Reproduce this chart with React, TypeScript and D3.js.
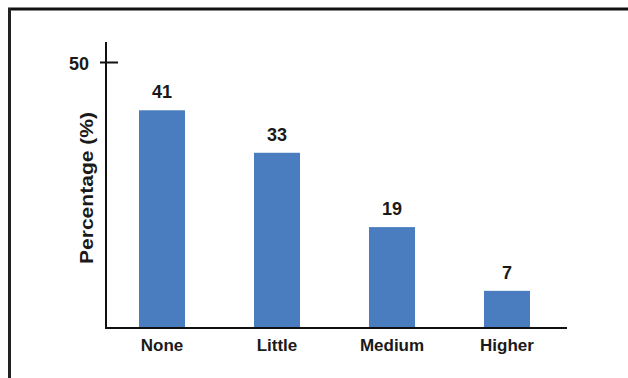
import React from "react";
import * as d3 from "d3";

const categories = ["None", "Little", "Medium", "Higher"];
const values = [41, 33, 19, 7];
const yTicks = [50];
const yLabel = "Percentage (%)";

export default function App() {
  const W = 628, H = 378;
  const x = d3.scaleBand<string>().domain(categories).range([106, 563]).paddingInner(0.6).paddingOuter(0.287);
  const y = d3.scaleLinear().domain([0, 50]).range([328, 62.5]);
  const font = "'Liberation Sans', Arial, Helvetica, sans-serif";
  const color = "#4a7dc0";
  return (
    <svg width={W} height={H} style={{ position: "absolute", left: 0, top: 0, background: "#fff" }} fontFamily={font}>
      <rect x={0} y={0} width={W} height={H} fill="#fff" />
      <line x1={8} x2={W} y1={9} y2={9} stroke="#111" strokeWidth={3} />
      <line x1={9.5} x2={9.5} y1={8} y2={H} stroke="#222" strokeWidth={3} />
      {categories.map((c, i) => (
        <g key={c}>
          <rect x={x(c)} y={y(values[i])} width={x.bandwidth()} height={y(0) - y(values[i])} fill={color} />
          <text x={(x(c) as number) + x.bandwidth() / 2} y={y(values[i]) - 12} textAnchor="middle" fontSize={18} fontWeight="bold" fill="#1a1a1a">{values[i]}</text>
          <text x={(x(c) as number) + x.bandwidth() / 2} y={351} textAnchor="middle" fontSize={17} fontWeight="bold" fill="#1a1a1a">{c}</text>
        </g>
      ))}
      <line x1={106} x2={106} y1={42} y2={329} stroke="#111" strokeWidth={2} />
      <line x1={105} x2={567} y1={328} y2={328} stroke="#111" strokeWidth={2} />
      {yTicks.map((t) => (
        <g key={t}>
          <line x1={100} x2={118} y1={y(t)} y2={y(t)} stroke="#111" strokeWidth={2} />
          <text x={89} y={y(t) + 7} textAnchor="end" fontSize={18} fontWeight="bold" fill="#1a1a1a">{t}</text>
        </g>
      ))}
      <text transform="translate(93,188) rotate(-90)" textAnchor="middle" fontSize={18} fontWeight="bold" fill="#1a1a1a" textLength={152} lengthAdjust="spacingAndGlyphs">{yLabel}</text>
    </svg>
  );
}
